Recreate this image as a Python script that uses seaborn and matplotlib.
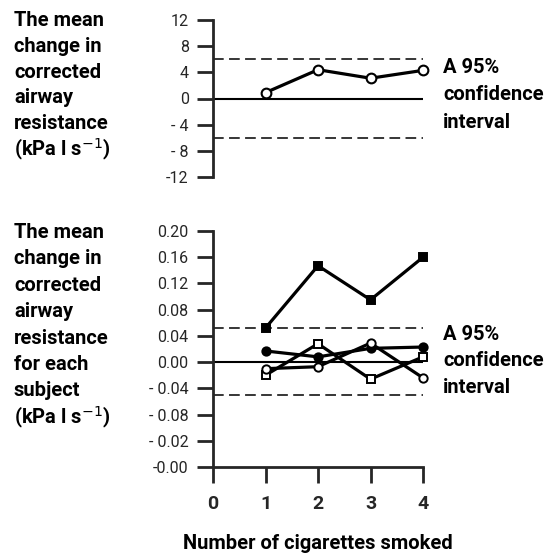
import matplotlib
matplotlib.use("Agg")
import matplotlib.pyplot as plt
import seaborn as sns

sns.set_style("ticks")
plt.rcParams['font.family'] = ['Roboto', 'DejaVu Sans']

# number of cigarettes
cigs = [1, 2, 3, 4]

# top panel: mean change
mean_change = [0.9, 4.4, 3.1, 4.3]
top_ci = [6.0, -6.0]
top_ticks = [12, 8, 4, 0, -4, -8, -12]
top_labels = ["12", "8", "4", "0", "- 4", "- 8", "-12"]

# bottom panel: each subject
subj_filled_sq = [0.052, 0.147, 0.095, 0.160]
subj_filled_ci = [0.017, 0.008, 0.021, 0.023]
subj_open_sq = [-0.020, 0.028, -0.026, 0.008]
subj_open_ci = [-0.010, -0.007, 0.029, -0.024]
bot_ci = [0.052, -0.050]
bot_ticks = [0.20, 0.16, 0.12, 0.08, 0.04, 0.00, -0.04, -0.08, -0.12, -0.16]
bot_labels = ["0.20", "0.16", "0.12", "0.08", "0.04", "0.00",
              "- 0.04", "- 0.08", "- 0.02", "-0.00"]
x_ticks = [0, 1, 2, 3, 4]

top_text = ["The mean", "change in", "corrected", "airway", "resistance",
            "(kPa l s$^{-1}$)"]
bot_text = ["The mean", "change in", "corrected", "airway", "resistance",
            "for each", "subject", "(kPa l s$^{-1}$)"]
ci_text = ["A 95%", "confidence", "interval"]

W = H = 554
fig = plt.figure(figsize=(W / 100, H / 100), dpi=100)
ax1 = fig.add_axes([213 / W, 1 - 177 / H, 210 / W, 157 / H])
ax2 = fig.add_axes([213 / W, 1 - 467 / H, 210 / W, 236 / H])

txt = dict(fontsize=14.5, fontweight='bold', color='black')


def style_axis(ax, ticks, labels):
    ax.set_xlim(0, 4)
    ax.set_yticks(ticks)
    ax.set_yticklabels(labels, fontsize=11.5)
    ax.set_ylim(min(ticks), max(ticks))
    for s in ["top", "right"]:
        ax.spines[s].set_visible(False)
    ax.spines["left"].set_linewidth(2)
    ax.tick_params(axis='y', length=11.5, width=2, pad=6)
    ax.set_xlabel("")
    ax.set_ylabel("")


def draw_lines(lines, x, first_baseline, step):
    # one text per line, positions in pixels from the top
    for i, s in enumerate(lines):
        fig.text(x / W, 1 - (first_baseline + i * step) / H, s,
                 va='baseline', ha='left', **txt)


# top panel
ax1.plot([0, 4], [0, 0], color='black', lw=1.5)
for v in top_ci:
    ax1.plot([0, 4], [v, v], color='black', lw=1.1, dashes=(7, 3.5))
sns.lineplot(x=cigs, y=mean_change, ax=ax1, color='black', lw=2.3,
             marker='o', markersize=7, markerfacecolor='white',
             markeredgecolor='black', markeredgewidth=1.5, clip_on=False)
style_axis(ax1, top_ticks, top_labels)
ax1.spines["bottom"].set_visible(False)
ax1.set_xticks([])

# bottom panel
ax2.plot([0, 4], [0, 0], color='black', lw=1.5)
for v in bot_ci:
    ax2.plot([0, 4], [v, v], color='black', lw=1.1, dashes=(7, 3.5))
series = [
    (subj_filled_sq, 's', 'black'),
    (subj_filled_ci, 'o', 'black'),
    (subj_open_sq, 's', 'white'),
    (subj_open_ci, 'o', 'white'),
]
for vals, mk, fc in series:
    sns.lineplot(x=cigs, y=vals, ax=ax2, color='black', lw=2.3,
                 marker=mk, markersize=6, markerfacecolor=fc,
                 markeredgecolor='black', markeredgewidth=1.4, clip_on=False)
style_axis(ax2, bot_ticks, bot_labels)
ax2.spines["bottom"].set_linewidth(2)
ax2.set_xticks(x_ticks)
ax2.set_xticklabels([str(t) for t in x_ticks], fontsize=14, fontweight='bold')
ax2.tick_params(axis='x', length=11.5, width=2, pad=9)

# left side text
draw_lines(top_text, 14, 26, 25.8)
draw_lines(bot_text, 14, 238, 26.4)

# right side text
draw_lines(ci_text, 443, 73, 27.5)
draw_lines(ci_text, 443, 340, 26.5)

fig.text(318 / W, 1 - 549 / H, "Number of cigarettes smoked", ha='center',
         va='baseline', **txt)

fig.savefig("out.png", dpi=100)
